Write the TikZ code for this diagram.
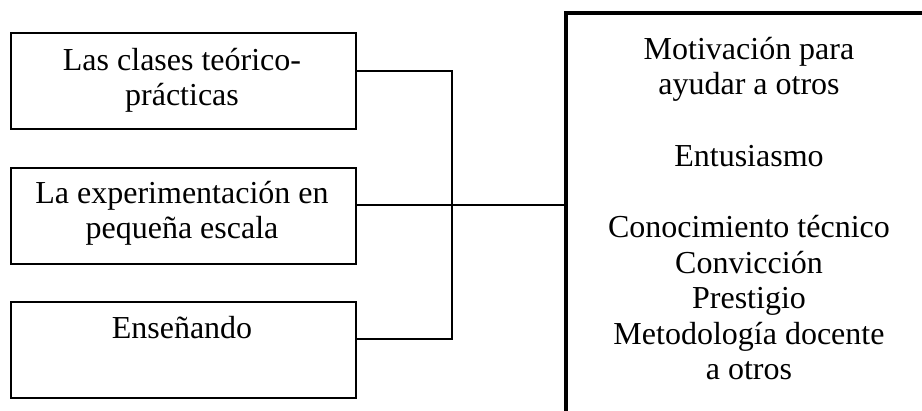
\documentclass[tikz,border=0pt]{standalone}
\usepackage{fontspec}
\setmainfont{Liberation Serif}
\begin{document}
\begin{tikzpicture}[x=1pt,y=1pt,
  leftbox/.style={draw, line width=2pt, minimum width=345pt, minimum height=96pt, inner sep=0pt, anchor=north west},
  boxtext/.style={anchor=base, align=center, font=\fontsize{32}{35.5}\selectfont, inner sep=0pt},
  link/.style={line width=2pt},
  bigedge/.style={line width=3.5pt}]
\useasboundingbox (0,0) rectangle (922,-411);
\node[leftbox] (b1) at (10,-32) {};
\node[leftbox] (b2) at (10,-167) {};
\node[leftbox] (b3) at (10,-301) {};
\node[boxtext] (t1) at (182,-106) {Las clases teórico-\\prácticas};
\node[boxtext] (t2) at (182,-239) {La experimentación en\\pequeña escala};
\node[boxtext] (t3) at (182,-339) {Enseñando};
\coordinate (c1) at ([yshift=-39pt]b1.north east);
\coordinate (c2) at ([yshift=-38pt]b2.north east);
\coordinate (c3) at ([yshift=-38pt]b3.north east);
\coordinate (j) at (452,-205);
\coordinate (rtop) at (566,-13);
\coordinate (rbot) at (566,-420);
\coordinate (rright) at (930,-13);
\coordinate (rj) at (566,-205);
\draw[link] (c1) -| (j |- c3) -- (c3);
\draw[link] (c2) -- (rj);
\draw[bigedge] (rbot) -- (rtop) -- (rright);
\node[boxtext] (rt) at (749,-380) {Motivación para\\ayudar a otros\\[36pt]Entusiasmo\\[36pt]Conocimiento técnico\\Convicción\\Prestigio\\Metodología docente\\a otros};
\end{tikzpicture}
\end{document}
